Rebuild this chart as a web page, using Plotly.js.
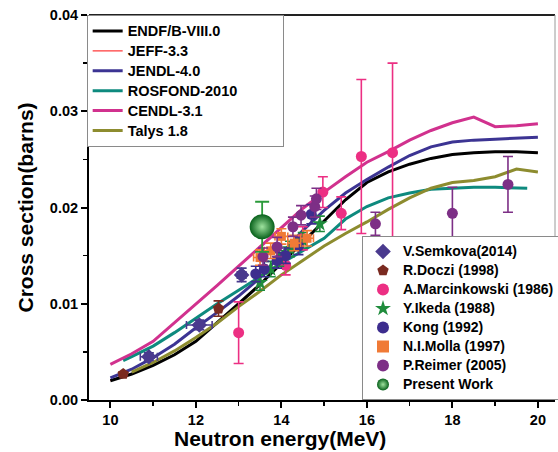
<!DOCTYPE html>
<html>
<head>
<meta charset="utf-8">
<script src="https://cdn.plot.ly/plotly-3.0.1.min.js"></script>
<style>html,body{margin:0;padding:0;background:#fff;}#chart{width:558px;height:452px;}</style>
</head>
<body>
<div id="chart"></div>
<script>
// ---- evaluated library curves (energy in MeV, cross section in barns)
const energyA = [10,10.5,11,11.5,12,12.5,13,13.5,14,14.5,15,15.5,16,16.5,17,17.5,18,18.5,19,19.5,20];
const endf   = [0.0020,0.0027,0.0036,0.0047,0.0061,0.0080,0.0100,0.0120,0.0142,0.0164,0.0186,0.0208,0.0226,0.0237,0.0245,0.0251,0.0255,0.0257,0.0258,0.0258,0.0257];
const jeff   = [0.0020,0.0027,0.0036,0.0047,0.0061,0.0080,0.0100,0.0120,0.0142,0.0164,0.0186,0.0208,0.0226,0.0237,0.0245,0.0251,0.0255,0.0257,0.0258,0.0258,0.0257];
const jendl  = [0.0023,0.0032,0.0044,0.0058,0.0075,0.0091,0.0108,0.0127,0.0152,0.0176,0.0197,0.0215,0.0229,0.0242,0.0254,0.0263,0.0268,0.0270,0.0271,0.0272,0.0273];
const cendl  = [0.0037,0.0048,0.0061,0.0080,0.0099,0.0119,0.0139,0.0159,0.0180,0.0199,0.0216,0.0232,0.0247,0.0258,0.0270,0.0280,0.0288,0.0294,0.0284,0.0285,0.0287];
const energyR = [10.3,10.5,11,11.5,12,12.5,13,13.5,14,14.5,15,15.5,16,16.5,17,17.5,18,18.5,19,19.5,19.75];
const rosfond = [0.0041,0.0045,0.0056,0.0070,0.0085,0.0100,0.0114,0.0128,0.0142,0.0155,0.0168,0.0188,0.0201,0.0210,0.0215,0.0219,0.0220,0.0221,0.0221,0.0220,0.0220];
const energyT = [10.5,11,11.5,12,12.5,13,13.5,14,14.5,15,15.5,16,16.5,17,17.5,18,18.5,19,19.5,20];
const talys   = [0.0029,0.0039,0.0051,0.0065,0.0080,0.0097,0.0113,0.0130,0.0145,0.0160,0.0173,0.0185,0.0198,0.0210,0.0220,0.0226,0.0228,0.0232,0.0240,0.0237];

// ---- experimental data
const semkovaX = [10.9,12.08,13.07];
const semkovaY = [0.0045,0.0078,0.0130];
const semkovaEY = [0.0004,0.0005,0.0007];
const semkovaEX = [0.2,0.3,0.1];
const dolcziX = [10.3,12.53];
const dolcziY = [0.0027,0.0095];
const dolcziEY = [0.0002,0.0008];
const marcX = [13.0,14.1,14.5,14.97,15.4,15.87,16.6];
const marcY = [0.0070,0.0140,0.0168,0.0216,0.0194,0.0253,0.0257];
const marcEY = [0.0032,0.0010,0.0012,0.0016,0.0017,0.0080,0.0093];
const ikedaX = [13.5,13.75,13.95,14.2,14.5,14.9];
const ikedaY = [0.0122,0.0136,0.0147,0.0157,0.0166,0.0183];
const ikedaEY = [0.0008,0.0008,0.0008,0.0008,0.0008,0.0008];
const kongX = [13.4,13.6,13.9,14.1,14.4,14.7];
const kongY = [0.0131,0.0136,0.0145,0.0150,0.0160,0.0193];
const kongEY = [0.0008,0.0008,0.0008,0.0008,0.0009,0.0010];
const mollaX = [13.5,13.75,14.0,14.3,14.6];
const mollaY = [0.0148,0.0155,0.0170,0.0163,0.0168];
const mollaEY = [0.0008,0.0008,0.0008,0.0008,0.0008];
const mollaEX = [0.15,0.15,0.15,0.15,0.15];
const reimerX = [13.57,13.9,14.27,14.46,14.78,14.82,16.2,18.0,19.3];
const reimerY = [0.0149,0.0159,0.0180,0.0192,0.0201,0.0209,0.0183,0.0194,0.0224];
const reimerEY = [0.0009,0.0010,0.0010,0.0010,0.0011,0.0011,0.0012,0.0027,0.0029];
const presentX = [13.55];
const presentY = [0.0180];
const presentEY = [0.0026];

const F = 'Arial, "Liberation Sans", sans-serif';
function nm1(s,pad){return '<span style="font-size:14.5px">'+s+(pad||'')+'</span>';}
function nm2(s){return '<span style="font-size:14px">'+s+'</span>';}

function curve(x,y,name,color,w,pad){
  return {x:x,y:y,name:nm1(name,pad),type:'scatter',mode:'lines',legend:'legend',
    line:{color:color,width:w,shape:'linear'},hoverinfo:'skip'};
}
function pts(x,y,ey,ex,name,color,sym,size){
  const t = {x:x,y:y,name:nm2(name),type:'scatter',mode:'markers',legend:'legend2',
    marker:{color:color,symbol:sym,size:size},
    error_y:{type:'data',array:ey,visible:true,color:color,thickness:1.6,width:5}};
  if(ex){t.error_x={type:'data',array:ex,visible:true,color:color,thickness:1.6,width:4};}
  return t;
}

const PAD = '&nbsp;&nbsp;&nbsp;&nbsp;&nbsp;&nbsp;&nbsp;&nbsp;&nbsp;&nbsp;';
const traces = [
  curve(energyA,jeff,'JEFF-3.3','#ff3a3a',1.2),
  curve(energyA,endf,'ENDF/B-VIII.0','#000000',3),
  curve(energyA,jendl,'JENDL-4.0','#3c3493',3),
  curve(energyR,rosfond,'ROSFOND-2010','#0e8a7e',3,PAD),
  curve(energyA,cendl,'CENDL-3.1','#d1318e',3),
  curve(energyT,talys,'Talys 1.8','#8d8c2f',3),
  pts(semkovaX,semkovaY,semkovaEY,semkovaEX,'V.Semkova(2014)','#4a3a8e','diamond',12),
  pts(dolcziX,dolcziY,dolcziEY,null,'R.Doczi (1998)','#7a2a20','pentagon',12),
  pts(marcX,marcY,marcEY,null,'A.Marcinkowski (1986)','#ec2f83','circle',11),
  pts(ikedaX,ikedaY,ikedaEY,null,'Y.Ikeda (1988)','#1f8c3c','star',12),
  pts(kongX,kongY,kongEY,null,'Kong (1992)','#3d2d8e','circle',11),
  pts(mollaX,mollaY,mollaEY,mollaEX,'N.I.Molla (1997)','#f07a36','square',9),
  pts(reimerX,reimerY,reimerEY,null,'P.Reimer (2005)','#7d2f86','circle',11),
  {x:presentX,y:presentY,name:nm2('Present Work'),type:'scatter',mode:'markers',legend:'legend2',
    marker:{color:'#07601a',symbol:'circle',size:25,line:{width:0},gradient:{type:'radial',color:'#9fe39f'}},
    error_y:{type:'data',array:presentEY,visible:true,color:'#2a9a3a',thickness:1.8,width:7}}
];

// legend 1 lists ENDF first, then JEFF
traces[1].legendrank = 1; traces[0].legendrank = 2; traces[2].legendrank = 3;
traces[3].legendrank = 4; traces[4].legendrank = 5; traces[5].legendrank = 6;

const layout = {
  width:558, height:452,
  margin:{l:89, r:3, t:15, b:52, autoexpand:false},
  paper_bgcolor:'#ffffff', plot_bgcolor:'#ffffff',
  font:{family:F, color:'#000000'},
  showlegend:true,
  xaxis:{range:[9.5,20.4], tickvals:[10,12,14,16,18,20], ticktext:['10','12','14','16','18','20'],
    ticks:'outside', ticklen:6, tickwidth:2, tickcolor:'#000',
    minor:{tickvals:[11,13,15,17,19], ticks:'outside', ticklen:4, tickwidth:1.5, tickcolor:'#000', showgrid:false},
    showline:true, linecolor:'#000', linewidth:2, showgrid:false, zeroline:false,
    tickfont:{family:F, size:14.5, color:'#000', weight:'bold'}},
  yaxis:{range:[0,0.04], tickvals:[0,0.01,0.02,0.03,0.04], ticktext:['0.00','0.01','0.02','0.03','0.04'],
    ticks:'outside', ticklen:6, tickwidth:2, tickcolor:'#000',
    minor:{tickvals:[0.005,0.015,0.025,0.035], ticks:'outside', ticklen:4, tickwidth:1.5, tickcolor:'#000', showgrid:false},
    showline:true, linecolor:'#000', linewidth:2, showgrid:false, zeroline:false,
    tickfont:{family:F, size:14.5, color:'#000', weight:'bold'}},
  legend:{x:-0.005, y:1, xanchor:'left', yanchor:'top', bgcolor:'#ffffff', bordercolor:'#8a8a8a', borderwidth:1,
    font:{family:F, size:13, color:'#000', weight:'bold'}, traceorder:'normal', itemwidth:30},
  legend2:{x:(362-89)/466, y:0, xanchor:'left', yanchor:'bottom', bgcolor:'#ffffff', bordercolor:'#8a8a8a', borderwidth:1,
    font:{family:F, size:11, color:'#000', weight:'bold'}, traceorder:'normal', itemsizing:'constant', itemwidth:30},
  shapes:[
    {type:'line', xref:'paper', yref:'paper', x0:0, x1:1, y0:1, y1:1, line:{color:'#222', width:2}},
    {type:'line', xref:'paper', yref:'paper', x0:1, x1:1, y0:0, y1:1, line:{color:'#9a9a9a', width:1}}
  ],
  annotations:[
    {text:'Neutron energy(MeV)', xref:'paper', yref:'paper', x:(280-89)/466, y:-0.0, yshift:-38, xanchor:'center', yanchor:'middle',
      showarrow:false, font:{family:F, size:21, color:'#000', weight:'bold'}},
    {text:'Cross section(barns)', xref:'paper', yref:'paper', x:0, xshift:-64, y:0.5, xanchor:'center', yanchor:'middle', textangle:-90,
      showarrow:false, font:{family:F, size:21, color:'#000', weight:'bold'}}
  ]
};

Plotly.newPlot('chart', traces, layout, {displayModeBar:false, staticPlot:true});
</script>
</body>
</html>
